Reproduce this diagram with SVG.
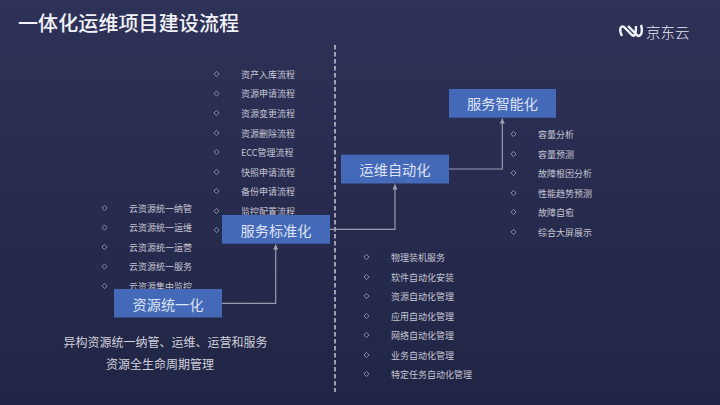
<svg xmlns="http://www.w3.org/2000/svg" width="720" height="405" viewBox="0 0 720 405">
<defs>
<linearGradient id="bg" x1="0" y1="0" x2="0" y2="1"><stop offset="0" stop-color="#2e3258"/><stop offset="0.5" stop-color="#272b4e"/><stop offset="1" stop-color="#212545"/></linearGradient>
<marker id="ah" markerWidth="6" markerHeight="6" refX="5" refY="3" orient="auto" markerUnits="userSpaceOnUse"><path d="M0 0.500 L5 3 L0 5.500 Z" fill="#a0a2b4"/></marker>
<path id="d" d="M0 -2.600 L2.600 0 L0 2.600 L-2.600 0 Z" fill="none" stroke="#a0a2b6" stroke-width="0.800"/>
</defs>
<style>
text{font-family:"Noto Sans CJK SC","Liberation Sans",sans-serif}
.i{font-size:9px;fill:#c6c7d4}
.b{fill:#4469b8}
.t{font-size:14.200px;fill:#dde3f3;text-anchor:middle}
.c{fill:none;stroke:#9a9cb0;stroke-width:1.200;marker-end:url(#ah)}
.s{font-size:12px;fill:#d0d1dc;text-anchor:middle}
</style>
<rect width="720" height="405" fill="url(#bg)"/>
<text x="18" y="30.500" font-size="20" font-weight="500" fill="#f2f3f8" letter-spacing=".1">一体化运维项目建设流程</text>
<g id="logo"><path d="M622 36 C619 30 620 25 624 27 L632 35 C636 38 636 30 636 26 M628 26 L638 36 C643 36 642 28 641 25" fill="none" stroke="#f2f3f8" stroke-width="2.400"/><text x="646" y="38" font-size="14.500" font-weight="300" fill="#e8e9f0">京东云</text></g>
<line id="divider" x1="335" y1="45" x2="335" y2="392" stroke="#f0f0f4" stroke-width="1.200" stroke-dasharray="4.500 2.500"/>
<g id="list-standard">
<use href="#d" x="216.500" y="74"/><text class="i" x="241" y="77.500">资产入库流程</text>
<use href="#d" x="216.500" y="93.500"/><text class="i" x="241" y="97">资源申请流程</text>
<use href="#d" x="216.500" y="113"/><text class="i" x="241" y="116.500">资源变更流程</text>
<use href="#d" x="216.500" y="133"/><text class="i" x="241" y="136.500">资源删除流程</text>
<use href="#d" x="216.500" y="152"/><text class="i" x="241" y="155.500">ECC管理流程</text>
<use href="#d" x="216.500" y="172"/><text class="i" x="241" y="175.500">快照申请流程</text>
<use href="#d" x="216.500" y="191"/><text class="i" x="241" y="194.500">备份申请流程</text>
<use href="#d" x="216.500" y="211"/><text class="i" x="241" y="214.500">监控配置流程</text>
<use href="#d" x="216.500" y="230"/>
</g>
<g id="list-resource">
<use href="#d" x="104.500" y="208"/><text class="i" x="129" y="211.500">云资源统一纳管</text>
<use href="#d" x="104.500" y="227.500"/><text class="i" x="129" y="231">云资源统一运维</text>
<use href="#d" x="104.500" y="247"/><text class="i" x="129" y="250.500">云资源统一运营</text>
<use href="#d" x="104.500" y="266.500"/><text class="i" x="129" y="270">云资源统一服务</text>
<use href="#d" x="104.500" y="286"/><text class="i" x="129" y="289.500">云资源集中监控</text>
</g>
<g id="list-auto">
<use href="#d" x="366.500" y="257"/><text class="i" x="391" y="260.500">物理装机服务</text>
<use href="#d" x="366.500" y="277"/><text class="i" x="391" y="280.500">软件自动化安装</text>
<use href="#d" x="366.500" y="296"/><text class="i" x="391" y="299.500">资源自动化管理</text>
<use href="#d" x="366.500" y="316"/><text class="i" x="391" y="319.500">应用自动化管理</text>
<use href="#d" x="366.500" y="335"/><text class="i" x="391" y="338.500">网络自动化管理</text>
<use href="#d" x="366.500" y="355"/><text class="i" x="391" y="358.500">业务自动化管理</text>
<use href="#d" x="366.500" y="374"/><text class="i" x="391" y="377.500">特定任务自动化管理</text>
</g>
<g id="list-smart">
<use href="#d" x="513.500" y="134"/><text class="i" x="538" y="137.500">容量分析</text>
<use href="#d" x="513.500" y="154"/><text class="i" x="538" y="157.500">容量预测</text>
<use href="#d" x="513.500" y="173"/><text class="i" x="538" y="176.500">故障根因分析</text>
<use href="#d" x="513.500" y="193"/><text class="i" x="538" y="196.500">性能趋势预测</text>
<use href="#d" x="513.500" y="212"/><text class="i" x="538" y="215.500">故障自愈</text>
<use href="#d" x="513.500" y="232"/><text class="i" x="538" y="235.500">综合大屏展示</text>
</g>
<g id="node-resource"><rect class="b" x="114" y="289" width="108" height="28.500"/><text class="t" x="168" y="309.800">资源统一化</text></g>
<g id="node-standard"><rect class="b" x="222" y="215" width="108" height="28.700"/><text class="t" x="276" y="235.500">服务标准化</text></g>
<g id="node-auto"><rect class="b" x="341" y="154.700" width="108" height="28.800"/><text class="t" x="395" y="174.800">运维自动化</text></g>
<g id="node-smart"><rect class="b" x="449" y="89" width="107" height="28.700"/><text class="t" x="502.500" y="109">服务智能化</text></g>
<g id="connectors">
<path class="c" d="M222 303.300 H275.700 V244.500"/>
<path class="c" d="M330 229.300 H395 V184.500"/>
<path class="c" d="M449 169 H502.300 V118.500"/>
</g>
<g id="summary"><text class="s" x="165.500" y="346.500">异构资源统一纳管、运维、运营和服务</text><text class="s" x="160" y="368.500">资源全生命周期管理</text></g>
</svg>
